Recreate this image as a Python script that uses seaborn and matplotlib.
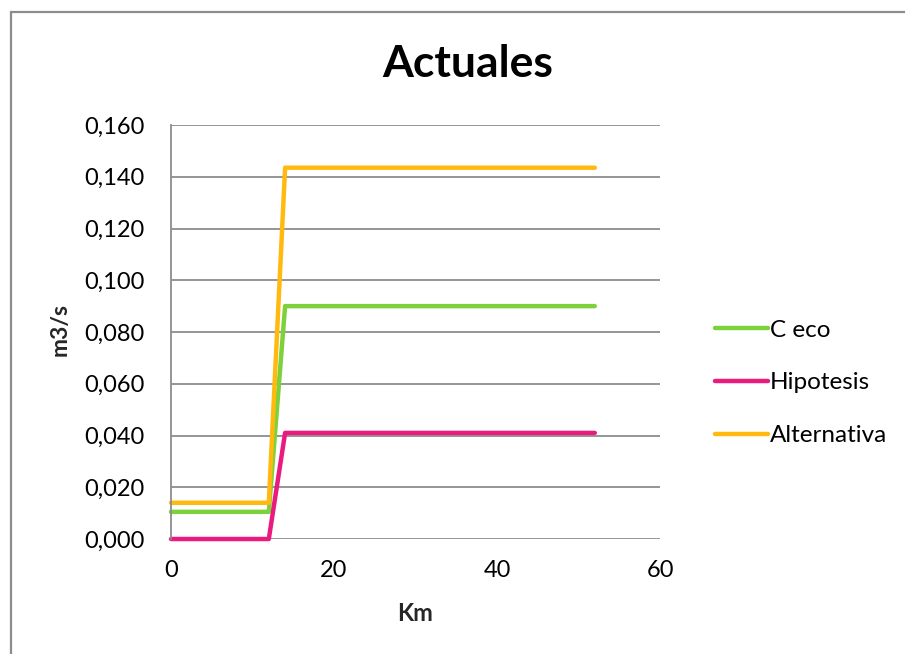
import pandas as pd
import matplotlib
matplotlib.use("Agg")
import matplotlib.pyplot as plt
import matplotlib.ticker as mticker
import seaborn as sns

# Values
km = [0, 12, 14, 52]
c_eco = [0.0105, 0.0105, 0.090, 0.090]
hipotesis = [0.000, 0.000, 0.041, 0.041]
alternativa = [0.014, 0.014, 0.1435, 0.1435]
series_names = ["C eco", "Hipotesis", "Alternativa"]
colors = ["#7DD13B", "#EA1A7F", "#FFB90F"]
y_ticks = [0.00, 0.02, 0.04, 0.06, 0.08, 0.10, 0.12, 0.14, 0.16]
x_ticks = [0, 20, 40, 60]

df = pd.concat([
    pd.DataFrame({"Km": km, "m3/s": vals, "serie": name})
    for name, vals in zip(series_names, [c_eco, hipotesis, alternativa])
])

sns.set_theme(style="white")
plt.rcParams["font.family"] = ["Lato", "DejaVu Sans"]
plt.rcParams["text.color"] = "black"

fig = plt.figure(figsize=(9.05, 6.54), dpi=100)
ax = fig.add_axes([171 / 905, 1 - 539 / 654, 489 / 905, 414 / 654])

# chart frame (cropped on right/bottom like the reference)
fig.patches.append(plt.Rectangle((10.5 / 905, -0.1), 1.2, 1 - 11.5 / 654 + 0.1,
                                 transform=fig.transFigure, fill=False,
                                 edgecolor="#8c8c8c", linewidth=1.6))

sns.lineplot(data=df, x="Km", y="m3/s", hue="serie", palette=colors,
             sort=False, linewidth=3.2, ax=ax, legend=True,
             solid_capstyle="round")
for line in ax.lines:
    line.set_clip_on(False)

ax.set_xlim(0, 60)
ax.set_ylim(0, 0.160)
ax.set_xticks(x_ticks)
ax.set_yticks(y_ticks)
ax.yaxis.set_major_formatter(mticker.FuncFormatter(lambda v, p: f"{v:.3f}".replace(".", ",")))
ax.grid(axis="y", color="#8c8c8c", linewidth=1.3)
ax.set_axisbelow(True)
for s in ["top", "right", "bottom"]:
    ax.spines[s].set_visible(False)
ax.spines["left"].set_color("#8c8c8c")
ax.spines["left"].set_linewidth(1.3)
ax.tick_params(axis="both", length=0, labelsize=17, colors="black")
ax.tick_params(axis="y", pad=19)
ax.tick_params(axis="x", pad=15)

ax.set_xlabel("Km", fontsize=17, fontweight="bold")
ax.xaxis.set_label_coords(0.5, -0.152)
ax.set_ylabel("m3/s", fontsize=16.5, fontweight="bold")
ax.yaxis.set_label_coords(-0.205, 0.505)
fig.text(0.517, 1 - 77 / 654, "Actuales", fontsize=32, fontweight="bold",
         ha="center", va="baseline")

ax.legend(title=None, frameon=False, fontsize=17.5, loc="center left",
          bbox_to_anchor=(1.112, 0.377), borderaxespad=0, borderpad=0,
          handlelength=2.2, handletextpad=0.08, labelspacing=1.3)

fig.savefig("out.png", dpi=100)
